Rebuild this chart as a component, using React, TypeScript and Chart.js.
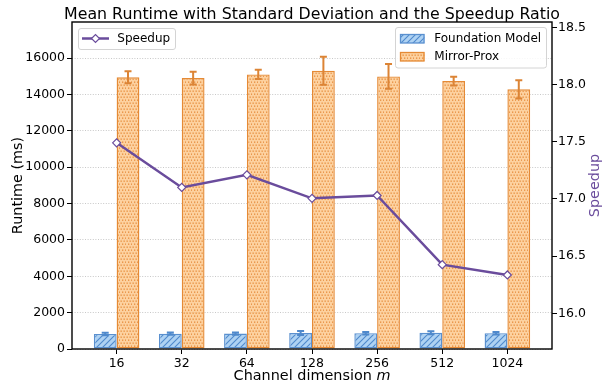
import React, { useEffect, useRef } from "react";
import { Chart, registerables } from "chart.js";

Chart.register(...registerables);

const categories = ["16", "32", "64", "128", "256", "512", "1024"];
const foundationMean = [830, 845, 850, 880, 870, 890, 870];
const foundationStd = [70, 60, 60, 110, 70, 80, 70];
const mirrorMean = [14940, 14900, 15100, 15300, 14990, 14735, 14280];
const mirrorStd = [330, 350, 255, 770, 680, 240, 500];
const speedup = [17.49, 17.1, 17.21, 17.005, 17.03, 16.425, 16.335];
const runtimeTicks = [0, 2000, 4000, 6000, 8000, 10000, 12000, 14000, 16000];
const speedupTicks = [16.0, 16.5, 17.0, 17.5, 18.0, 18.5];

const FONT = "'DejaVu Sans', 'Liberation Sans', sans-serif";
const PURPLE = "#6a4c9c";
const BLUE_EDGE = "#5a90cf";
const ORANGE_EDGE = "#e58a35";

function makeHatch(): CanvasPattern | string {
  const c = document.createElement("canvas");
  c.width = 6;
  c.height = 6;
  const g = c.getContext("2d");
  if (!g) return "#bdd9f2";
  g.fillStyle = "rgba(165,205,242,0.9)";
  g.fillRect(0, 0, 6, 6);
  g.strokeStyle = "#4f89cc";
  g.lineWidth = 1.1;
  g.beginPath();
  g.moveTo(-1, 7);
  g.lineTo(7, -1);
  g.moveTo(-1, 1);
  g.lineTo(1, -1);
  g.moveTo(5, 7);
  g.lineTo(7, 5);
  g.stroke();
  return g.createPattern(c, "repeat") || "#bdd9f2";
}

function makeDots(): CanvasPattern | string {
  const c = document.createElement("canvas");
  c.width = 6;
  c.height = 6;
  const g = c.getContext("2d");
  if (!g) return "#fed9b0";
  g.fillStyle = "rgba(252,198,135,0.8)";
  g.fillRect(0, 0, 6, 6);
  g.fillStyle = "#e58c3c";
  const pts = [
    [0.5, 0.5],
    [3.5, 0.5],
    [2, 3.5],
    [5, 3.5],
  ];
  pts.forEach(([x, y]) => g.fillRect(x, y, 1.3, 1.3));
  return g.createPattern(c, "repeat") || "#fed9b0";
}

const errorBarPlugin = {
  id: "errorBars",
  afterDatasetDraw(chart: any, args: any) {
    const ds = chart.data.datasets[args.index];
    if (!ds.errors) return;
    const meta = args.meta;
    const yScale = chart.scales[meta.yAxisID];
    const ctx = chart.ctx;
    ctx.save();
    ctx.strokeStyle = ds.errorColor;
    ctx.lineWidth = 2;
    meta.data.forEach((el: any, i: number) => {
      const m = ds.data[i].y;
      const e = ds.errors[i];
      const x = el.x;
      const y1 = yScale.getPixelForValue(m - e);
      const y2 = yScale.getPixelForValue(m + e);
      ctx.beginPath();
      ctx.moveTo(x, y1);
      ctx.lineTo(x, y2);
      ctx.moveTo(x - 3.5, y1);
      ctx.lineTo(x + 3.5, y1);
      ctx.moveTo(x - 3.5, y2);
      ctx.lineTo(x + 3.5, y2);
      ctx.stroke();
    });
    ctx.restore();
  },
};

function roundRect(ctx: CanvasRenderingContext2D, x: number, y: number, w: number, h: number, r: number) {
  ctx.beginPath();
  ctx.moveTo(x + r, y);
  ctx.lineTo(x + w - r, y);
  ctx.arcTo(x + w, y, x + w, y + r, r);
  ctx.lineTo(x + w, y + h - r);
  ctx.arcTo(x + w, y + h, x + w - r, y + h, r);
  ctx.lineTo(x + r, y + h);
  ctx.arcTo(x, y + h, x, y + h - r, r);
  ctx.lineTo(x, y + r);
  ctx.arcTo(x, y, x + r, y, r);
  ctx.closePath();
}

function makeDecorPlugin(hatch: any, dots: any) {
  return {
    id: "decor",
    afterDraw(chart: any) {
      const ctx: CanvasRenderingContext2D = chart.ctx;
      const a = chart.chartArea;
      ctx.save();
      // frame
      ctx.strokeStyle = "#000";
      ctx.lineWidth = 1.4;
      ctx.strokeRect(a.left, a.top, a.right - a.left, a.bottom - a.top);

      const cx = (a.left + a.right) / 2;
      const cy = (a.top + a.bottom) / 2;

      // title
      ctx.fillStyle = "#000";
      ctx.textAlign = "center";
      ctx.textBaseline = "alphabetic";
      ctx.font = `15.8px ${FONT}`;
      ctx.fillText("Mean Runtime with Standard Deviation and the Speedup Ratio", cx, 19);

      // x label with italic m
      ctx.font = `14.4px ${FONT}`;
      const part1 = "Channel dimension ";
      const w1 = ctx.measureText(part1).width;
      ctx.font = `oblique 14.4px ${FONT}`;
      const w2 = ctx.measureText("m").width;
      const sx = cx - (w1 + w2) / 2;
      ctx.textAlign = "left";
      ctx.font = `14.4px ${FONT}`;
      ctx.fillText(part1, sx, 380);
      ctx.font = `oblique 14.4px ${FONT}`;
      ctx.fillText("m", sx + w1, 380);

      // left y label
      ctx.save();
      ctx.translate(21.5, cy);
      ctx.rotate(-Math.PI / 2);
      ctx.textAlign = "center";
      ctx.font = `14.4px ${FONT}`;
      ctx.fillStyle = "#000";
      ctx.fillText("Runtime (ms)", 0, 0);
      ctx.restore();

      // right y label
      ctx.save();
      ctx.translate(598.5, cy);
      ctx.rotate(-Math.PI / 2);
      ctx.textAlign = "center";
      ctx.font = `14.4px ${FONT}`;
      ctx.fillStyle = PURPLE;
      ctx.fillText("Speedup", 0, 0);
      ctx.restore();

      // legend 1 (Speedup)
      ctx.font = `12px ${FONT}`;
      ctx.textBaseline = "middle";
      ctx.textAlign = "left";
      roundRect(ctx, 78.5, 28.5, 97, 21, 2.5);
      ctx.fillStyle = "rgba(255,255,255,0.85)";
      ctx.fill();
      ctx.strokeStyle = "#d4d4d4";
      ctx.lineWidth = 1;
      ctx.stroke();
      ctx.strokeStyle = PURPLE;
      ctx.lineWidth = 2.5;
      ctx.beginPath();
      ctx.moveTo(82, 38.5);
      ctx.lineTo(109, 38.5);
      ctx.stroke();
      ctx.beginPath();
      ctx.moveTo(95.5 - 4, 38.5);
      ctx.lineTo(95.5, 38.5 - 4);
      ctx.lineTo(95.5 + 4, 38.5);
      ctx.lineTo(95.5, 38.5 + 4);
      ctx.closePath();
      ctx.fillStyle = "#fff";
      ctx.fill();
      ctx.lineWidth = 1.2;
      ctx.stroke();
      ctx.fillStyle = "#000";
      ctx.fillText("Speedup", 117.3, 39);

      // legend 2 (bars)
      roundRect(ctx, 395.5, 27.5, 151, 40.5, 2.5);
      ctx.fillStyle = "rgba(255,255,255,0.85)";
      ctx.fill();
      ctx.strokeStyle = "#d4d4d4";
      ctx.lineWidth = 1;
      ctx.stroke();
      ctx.fillStyle = hatch;
      ctx.fillRect(400, 34, 24.5, 9);
      ctx.lineWidth = 1.3;
      ctx.strokeStyle = BLUE_EDGE;
      ctx.strokeRect(400.5, 34.5, 23.5, 8.5);
      ctx.fillStyle = dots;
      ctx.fillRect(400, 52, 24.5, 9);
      ctx.strokeStyle = ORANGE_EDGE;
      ctx.strokeRect(400.5, 52.5, 23.5, 8.5);
      ctx.fillStyle = "#000";
      ctx.fillText("Foundation Model", 434.3, 39);
      ctx.fillText("Mirror-Prox", 434.3, 56.5);
      ctx.restore();
    },
  };
}

export default function App() {
  const ref = useRef<HTMLCanvasElement>(null);
  useEffect(() => {
    document.body.style.margin = "0";
    const canvas = ref.current;
    if (!canvas) return;
    Chart.defaults.font.family = FONT;
    const hatch = makeHatch();
    const dots = makeDots();
    const tickFont = { family: FONT, size: 12.5 };
    const chart = new Chart(canvas, {
      type: "bar",
      data: {
        datasets: [
          {
            type: "line",
            label: "Speedup",
            data: speedup.map((v, i) => ({ x: i, y: v })),
            yAxisID: "y1",
            xAxisID: "x",
            borderColor: PURPLE,
            borderWidth: 2.5,
            pointStyle: "rectRot",
            pointRadius: 4,
            pointBackgroundColor: "#fff",
            pointBorderColor: PURPLE,
            pointBorderWidth: 1.2,
            tension: 0,
            order: 0,
          } as any,
          {
            type: "bar",
            label: "Foundation Model",
            data: foundationMean.map((v, i) => ({ x: i, y: v })),
            errors: foundationStd,
            errorColor: "#4f89cc",
            yAxisID: "y",
            xAxisID: "x",
            backgroundColor: hatch,
            borderColor: BLUE_EDGE,
            borderWidth: 1.4,
            borderSkipped: false,
            categoryPercentage: 0.7,
            barPercentage: 1,
            order: 1,
          } as any,
          {
            type: "bar",
            label: "Mirror-Prox",
            data: mirrorMean.map((v, i) => ({ x: i, y: v })),
            errors: mirrorStd,
            errorColor: "#dc8435",
            yAxisID: "y",
            xAxisID: "x",
            backgroundColor: dots,
            borderColor: ORANGE_EDGE,
            borderWidth: 1.4,
            borderSkipped: false,
            categoryPercentage: 0.7,
            barPercentage: 1,
            order: 1,
          } as any,
        ],
      },
      options: {
        responsive: false,
        animation: false,
        devicePixelRatio: 1,
        layout: { padding: { top: 22, left: 0, right: 0, bottom: 0 } },
        plugins: {
          legend: { display: false },
          title: { display: false },
          tooltip: { enabled: false },
        },
        scales: {
          x: {
            type: "linear",
            position: "bottom",
            min: -0.685,
            max: 6.685,
            offset: false,
            afterBuildTicks: (s: any) => {
              s.ticks = categories.map((_, i) => ({ value: i }));
            },
            afterFit: (s: any) => {
              s.height = 35;
            },
            ticks: {
              autoSkip: false,
              maxRotation: 0,
              minRotation: 0,
              padding: 2,
              color: "#000",
              font: tickFont,
              callback: (v: any) => categories[Math.round(Number(v))] ?? "",
            },
            grid: {
              display: true,
              drawOnChartArea: false,
              drawTicks: true,
              tickLength: 5,
              tickColor: "#000",
              tickWidth: 1,
              offset: false,
            },
            border: { display: false },
          },
          y: {
            type: "linear",
            position: "left",
            min: 0,
            max: 17980,
            afterBuildTicks: (s: any) => {
              s.ticks = runtimeTicks.map((v) => ({ value: v }));
            },
            afterFit: (s: any) => {
              s.width = 72;
            },
            ticks: {
              padding: 2,
              color: "#000",
              font: tickFont,
              callback: (v: any) => String(v),
            },
            grid: {
              display: true,
              drawOnChartArea: true,
              drawTicks: true,
              color: "#c8c8c8",
              lineWidth: 1,
              tickLength: 5,
              tickColor: "#000",
              tickWidth: 1,
              tickBorderDash: [],
            },
            border: { display: false, dash: [1, 1.6] },
          },
          y1: {
            type: "linear",
            position: "right",
            min: 15.688,
            max: 18.546,
            afterBuildTicks: (s: any) => {
              s.ticks = speedupTicks.map((v) => ({ value: v }));
            },
            afterFit: (s: any) => {
              s.width = 51;
            },
            ticks: {
              padding: 1,
              color: "#000",
              font: tickFont,
              callback: (v: any) => Number(v).toFixed(1),
            },
            grid: {
              display: true,
              drawOnChartArea: false,
              drawTicks: true,
              tickLength: 5,
              tickColor: "#000",
              tickWidth: 1,
            },
            border: { display: false },
          },
        },
      } as any,
      plugins: [errorBarPlugin, makeDecorPlugin(hatch, dots)],
    });
    return () => chart.destroy();
  }, []);
  return (
    <div style={{ width: 603, height: 384 }}>
      <canvas ref={ref} width={603} height={384} style={{ display: "block", width: 603, height: 384 }} />
    </div>
  );
}
